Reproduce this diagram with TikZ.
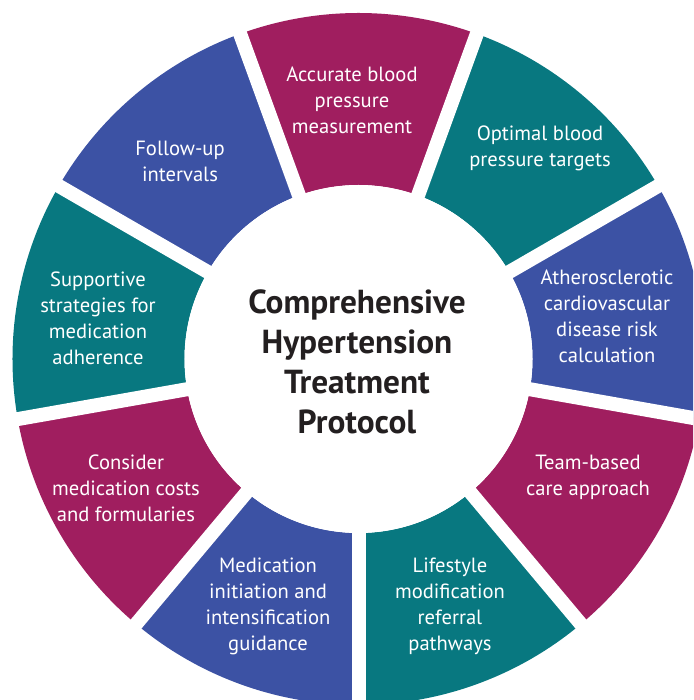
\documentclass[tikz,border=0pt]{standalone}
\usepackage{fontspec}
\setmainfont{PT Sans}
\usepackage{tikz}

\definecolor{segmagenta}{HTML}{A01E5F}
\definecolor{segteal}{HTML}{087880}
\definecolor{segblue}{HTML}{3C52A4}
\definecolor{hubtext}{HTML}{231F20}

\begin{document}
\begin{tikzpicture}[x=1pt, y=1pt,
  ringlabel/.style={text=white, align=center, font=\fontsize{20.6}{26}\selectfont},
  hublabel/.style={text=hubtext, align=center, font=\bfseries\fontsize{33.3}{40}\selectfont},
  gapline/.style={white, line width=14pt}]
\useasboundingbox (-358.5,-341) rectangle (334.5,359);
\clip (-358.5,-341) rectangle (334.5,359);
% ring segments, 40 degrees each
\fill[segmagenta] (70:174) arc[start angle=70, end angle=110, radius=174] -- (110:346) arc[start angle=110, end angle=70, radius=346] -- cycle;
\fill[segteal] (30:174) arc[start angle=30, end angle=70, radius=174] -- (70:346) arc[start angle=70, end angle=30, radius=346] -- cycle;
\fill[segblue] (-10:174) arc[start angle=-10, end angle=30, radius=174] -- (30:346) arc[start angle=30, end angle=-10, radius=346] -- cycle;
\fill[segmagenta] (-50:174) arc[start angle=-50, end angle=-10, radius=174] -- (-10:346) arc[start angle=-10, end angle=-50, radius=346] -- cycle;
\fill[segteal] (-90:174) arc[start angle=-90, end angle=-50, radius=174] -- (-50:346) arc[start angle=-50, end angle=-90, radius=346] -- cycle;
\fill[segblue] (-130:174) arc[start angle=-130, end angle=-90, radius=174] -- (-90:346) arc[start angle=-90, end angle=-130, radius=346] -- cycle;
\fill[segmagenta] (-170:174) arc[start angle=-170, end angle=-130, radius=174] -- (-130:346) arc[start angle=-130, end angle=-170, radius=346] -- cycle;
\fill[segteal] (150:174) arc[start angle=150, end angle=190, radius=174] -- (190:346) arc[start angle=190, end angle=150, radius=346] -- cycle;
\fill[segblue] (110:174) arc[start angle=110, end angle=150, radius=174] -- (150:346) arc[start angle=150, end angle=110, radius=346] -- cycle;
% white gaps between the segments
\coordinate (hubc) at (0,0);
\draw[gapline] (hubc) -- (110:360);
\draw[gapline] (hubc) -- (70:360);
\draw[gapline] (hubc) -- (30:360);
\draw[gapline] (hubc) -- (-10:360);
\draw[gapline] (hubc) -- (-50:360);
\draw[gapline] (hubc) -- (-90:360);
\draw[gapline] (hubc) -- (-130:360);
\draw[gapline] (hubc) -- (-170:360);
\draw[gapline] (hubc) -- (150:360);
\fill[white] (hubc) circle[radius=174];
% labels
\node[hublabel] (hub) at (-1.5,-3) {Comprehensive\\Hypertension\\Treatment\\Protocol};
\node[ringlabel] (accurate) at (-6.5,259) {Accurate blood\\pressure\\measurement};
\node[ringlabel] (targets) at (181.5,211) {Optimal blood\\pressure targets};
\node[ringlabel] (ascvd) at (248.5,43) {Atherosclerotic\\cardiovascular\\disease risk\\calculation};
\node[ringlabel] (team) at (229.5,-118) {Team-based\\care approach};
\node[ringlabel] (lifestyle) at (91.5,-247) {Lifestyle\\modification\\referral\\pathways};
\node[ringlabel] (initiation) at (-90.5,-247) {Medication\\initiation and\\intensification\\guidance};
\node[ringlabel] (costs) at (-232.5,-129) {Consider\\medication costs\\and formularies};
\node[ringlabel] (adherence) at (-260.5,41) {Supportive\\strategies for\\medication\\adherence};
\node[ringlabel] (followup) at (-178.5,198) {Follow-up\\intervals};
\end{tikzpicture}
\end{document}
